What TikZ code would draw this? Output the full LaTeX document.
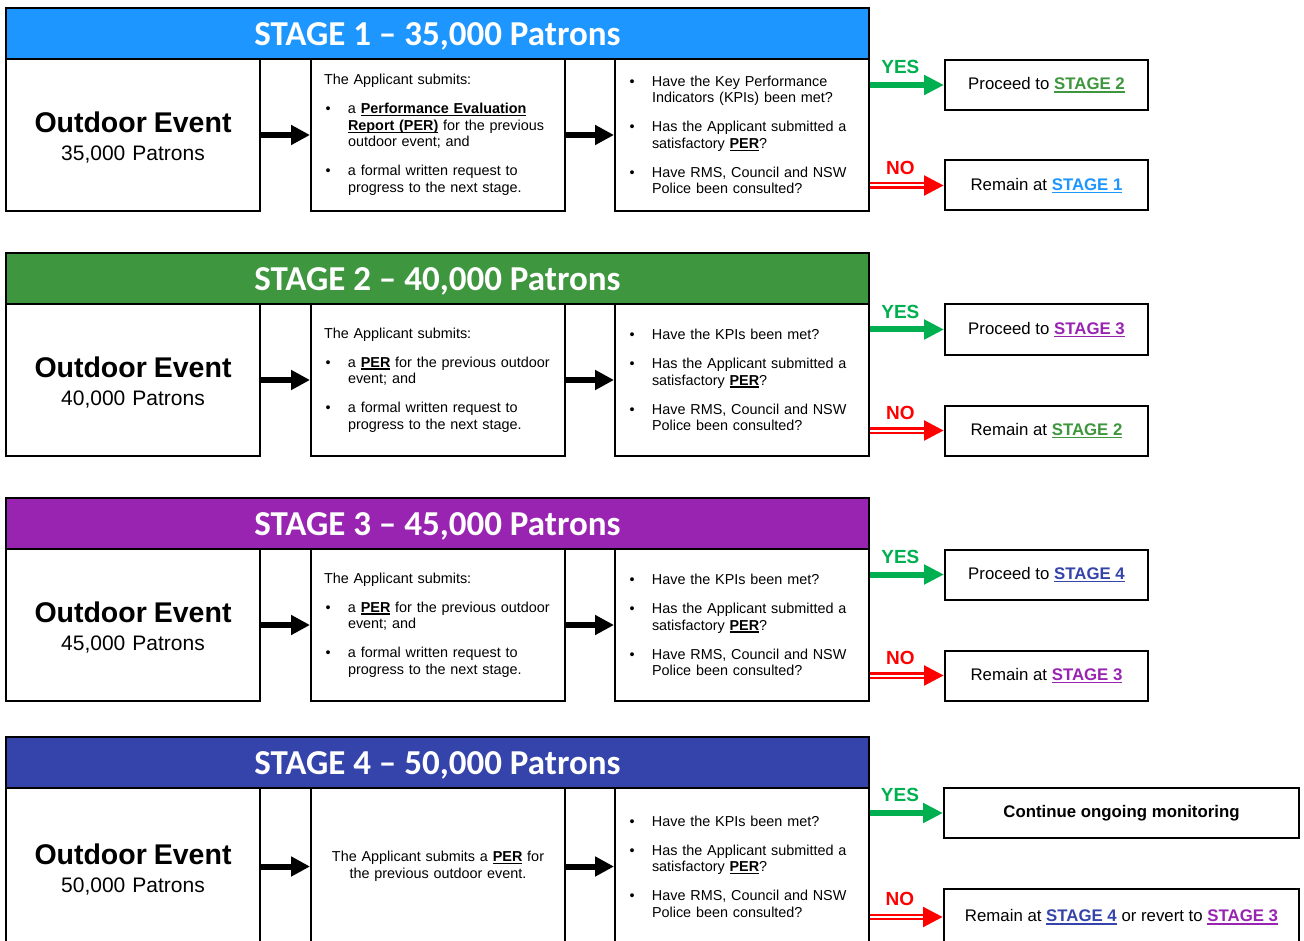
\documentclass[tikz,border=0pt]{standalone}
\usepackage{fontspec}
\setmainfont{Liberation Sans}
\newfontfamily\hdfont{Carlito}
\usepackage{tikz}
\usetikzlibrary{arrows.meta}
\definecolor{azul}{RGB}{30, 150, 255}
\definecolor{verde}{RGB}{62, 150, 62}
\definecolor{morado}{RGB}{153, 36, 178}
\definecolor{indigo}{RGB}{52, 68, 170}
\definecolor{sigreen}{RGB}{0, 176, 80}
\definecolor{nored}{RGB}{255, 0, 0}
\newsavebox\ulbox
\newcommand{\ulb}[1]{\sbox\ulbox{\textbf{#1}}\rlap{\rule[-0.17em]{\wd\ulbox}{0.085em}}\usebox\ulbox}
\newcommand{\bul}{\makebox[24pt][l]{\hspace{1.5pt}\textbullet}}
\newcommand{\ind}{\hspace*{24pt}}
\tikzset{
    hdr/.style={draw=black, line width=2pt, minimum width=863pt, minimum height=51pt, text height=24pt, text depth=0pt, text=white, font=\hdfont\bfseries\fontsize{35}{40}\selectfont},
    evt/.style={draw, line width=2pt, minimum width=254pt, minimum height=152pt, text width=230pt, text height=26pt, align=center, font=\fontsize{21}{28}\selectfont},
    subm/.style={draw, line width=2pt, minimum width=254pt, minimum height=152pt, text width=228pt, inner xsep=13pt, align=left, font=\fontsize{14.4}{16.5}\selectfont},
    res/.style={draw, line width=2pt, minimum width=203pt, minimum height=50pt, font=\fontsize{16.8}{19}\selectfont},
    blkarr/.style={-{Triangle[length=19pt, width=19pt]}, line width=6pt},
    yesarr/.style={sigreen, -{Triangle[length=20pt, width=19pt]}, line width=6pt},
    noarr/.style={nored, -{Triangle[length=20pt, width=19pt]}, line width=6.5pt, postaction={draw=white, line width=2pt, -, shorten >=20pt}},
    lbl/.style={font=\bfseries\fontsize{19}{20}\selectfont, inner sep=0pt, anchor=south, above=8pt, pos=0.41},
}

\begin{document}
\begin{tikzpicture}[x=1pt, y=-1pt]
    \useasboundingbox (0,0) rectangle (1304,941);
    \clip (0,0) rectangle (1304,941);
    \fill[white] (0,0) rectangle (1304,941);

    % stage 1
    \node[hdr, fill=azul] (st1) at (437.5,33.5) {STAGE 1 – 35,000 Patrons};
    \node[evt] (evt1) at (133,135) {{\fontsize{28.5}{28}\selectfont\bfseries Outdoor Event}\\35,000 Patrons};
    \node[subm] (sub1) at (438,135) {The Applicant submits:\\[12.5pt]
        \bul a \ulb{Performance Evaluation}\\
        \ind \ulb{Report (PER)} for the previous\\
        \ind outdoor event; and\\[12.5pt]
        \bul a formal written request to\\
        \ind progress to the next stage.};
    \node[subm] (kpi1) at (742,135) {\bul Have the Key Performance\\
        \ind Indicators (KPIs) been met?\\[12.5pt]
        \bul Has the Applicant submitted a\\
        \ind satisfactory \ulb{PER}?\\[12.5pt]
        \bul Have RMS, Council and NSW\\
        \ind Police been consulted?};
    \node[res] (prc1) at (1046.5,85) {Proceed to \textcolor{verde}{\ulb{STAGE 2}}};
    \node[res] (rem1) at (1046.5,185.5) {Remain at \textcolor{azul}{\ulb{STAGE 1}}};

    % stage 2
    \node[hdr, fill=verde] (st2) at (437.5,278.5) {STAGE 2 – 40,000 Patrons};
    \node[evt] (evt2) at (133,380) {{\fontsize{28.5}{28}\selectfont\bfseries Outdoor Event}\\40,000 Patrons};
    \node[subm] (sub2) at (438,380) {The Applicant submits:\\[12.5pt]
        \bul a \ulb{PER} for the previous outdoor\\
        \ind event; and\\[12.5pt]
        \bul a formal written request to\\
        \ind progress to the next stage.};
    \node[subm] (kpi2) at (742,380) {\bul Have the KPIs been met?\\[12.5pt]
        \bul Has the Applicant submitted a\\
        \ind satisfactory \ulb{PER}?\\[12.5pt]
        \bul Have RMS, Council and NSW\\
        \ind Police been consulted?};
    \node[res] (prc2) at (1046.5,329.5) {Proceed to \textcolor{morado}{\ulb{STAGE 3}}};
    \node[res] (rem2) at (1046.5,430.5) {Remain at \textcolor{verde}{\ulb{STAGE 2}}};

    % stage 3
    \node[hdr, fill=morado] (st3) at (437.5,523.5) {STAGE 3 – 45,000 Patrons};
    \node[evt] (evt3) at (133,625) {{\fontsize{28.5}{28}\selectfont\bfseries Outdoor Event}\\45,000 Patrons};
    \node[subm] (sub3) at (438,625) {The Applicant submits:\\[12.5pt]
        \bul a \ulb{PER} for the previous outdoor\\
        \ind event; and\\[12.5pt]
        \bul a formal written request to\\
        \ind progress to the next stage.};
    \node[subm] (kpi3) at (742,625) {\bul Have the KPIs been met?\\[12.5pt]
        \bul Has the Applicant submitted a\\
        \ind satisfactory \ulb{PER}?\\[12.5pt]
        \bul Have RMS, Council and NSW\\
        \ind Police been consulted?};
    \node[res] (prc3) at (1046.5,574.5) {Proceed to \textcolor{indigo}{\ulb{STAGE 4}}};
    \node[res] (rem3) at (1046.5,675.5) {Remain at \textcolor{morado}{\ulb{STAGE 3}}};

    % stage 4
    \node[hdr, fill=indigo] (st4) at (437.5,762.5) {STAGE 4 – 50,000 Patrons};
    \node[evt, minimum height=157pt] (evt4) at (133,866.5) {{\fontsize{28.5}{28}\selectfont\bfseries Outdoor Event}\\50,000 Patrons};
    \node[subm, minimum height=157pt, align=center] (sub4) at (438,866.5) {The Applicant submits a \ulb{PER} for\\
        the previous outdoor event.};
    \node[subm, minimum height=157pt] (kpi4) at (742,866.5) {\bul Have the KPIs been met?\\[12.5pt]
        \bul Has the Applicant submitted a\\
        \ind satisfactory \ulb{PER}?\\[12.5pt]
        \bul Have RMS, Council and NSW\\
        \ind Police been consulted?};
    \node[res, minimum width=355pt] (cnt4) at (1121.5,813) {\textbf{Continue ongoing monitoring}};
    \node[res, minimum width=355pt, minimum height=56pt] (rem4) at (1121.5,917) {Remain at \textcolor{indigo}{\ulb{STAGE 4}} or revert to \textcolor{morado}{\ulb{STAGE 3}}};

    \draw[blkarr] (evt1) -- (sub1);
    \draw[blkarr] (sub1) -- (kpi1);
    \draw[blkarr] (evt2) -- (sub2);
    \draw[blkarr] (sub2) -- (kpi2);
    \draw[blkarr] (evt3) -- (sub3);
    \draw[blkarr] (sub3) -- (kpi3);
    \draw[blkarr] (evt4) -- (sub4);
    \draw[blkarr] (sub4) -- (kpi4);

    \draw[yesarr] (kpi1.east |- prc1) -- (prc1) node[lbl, sigreen] {YES};
    \draw[noarr] (kpi1.east |- rem1) -- (rem1) node[lbl, nored] {NO};
    \draw[yesarr] (kpi2.east |- prc2) -- (prc2) node[lbl, sigreen] {YES};
    \draw[noarr] (kpi2.east |- rem2) -- (rem2) node[lbl, nored] {NO};
    \draw[yesarr] (kpi3.east |- prc3) -- (prc3) node[lbl, sigreen] {YES};
    \draw[noarr] (kpi3.east |- rem3) -- (rem3) node[lbl, nored] {NO};
    \draw[yesarr] (kpi4.east |- cnt4) -- (cnt4) node[lbl, sigreen] {YES};
    \draw[noarr] (kpi4.east |- rem4) -- (rem4) node[lbl, nored] {NO};
\end{tikzpicture}
\end{document}
